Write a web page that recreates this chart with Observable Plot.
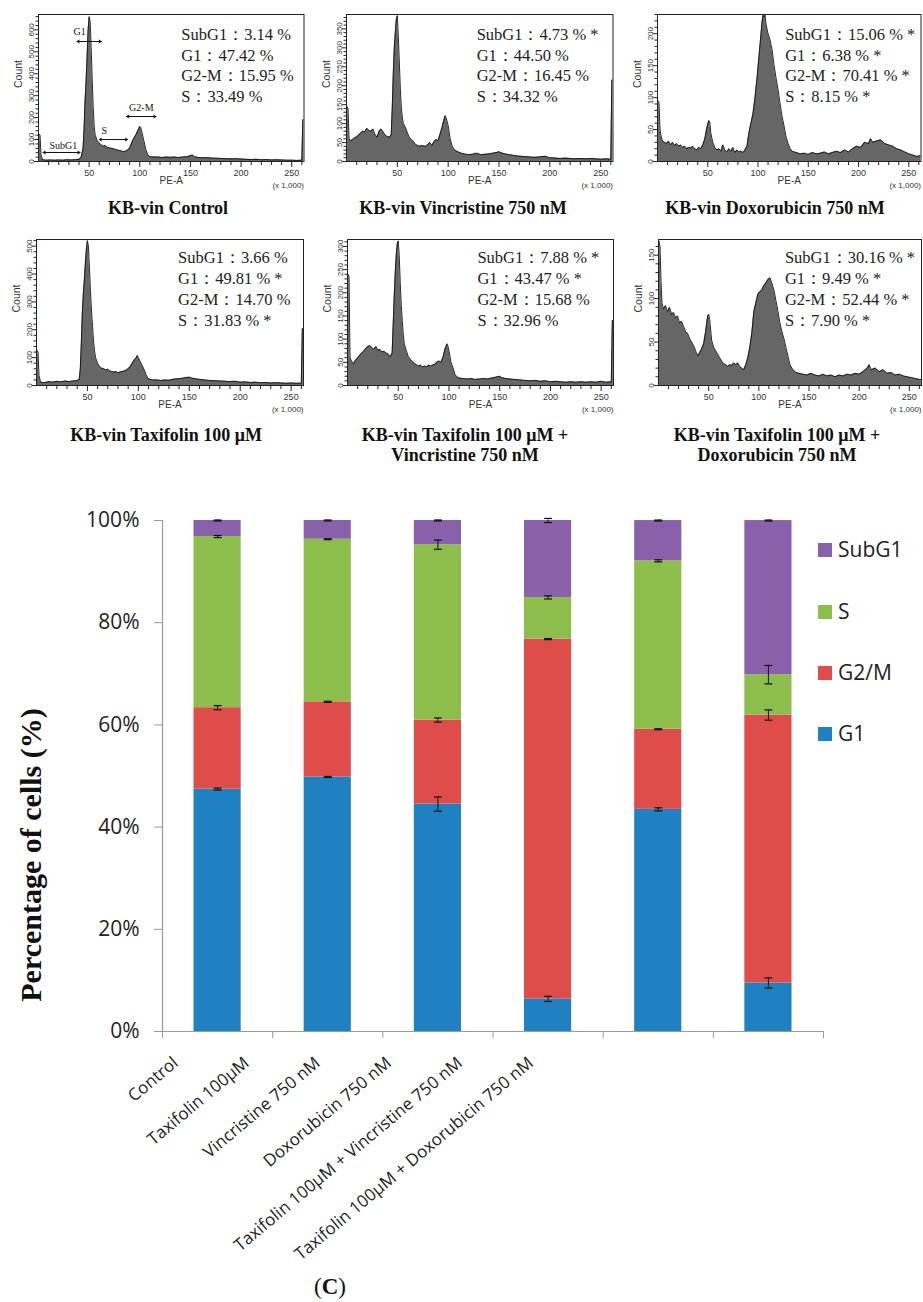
<!DOCTYPE html>
<html><head><meta charset="utf-8">
<script src="https://cdn.jsdelivr.net/npm/d3@7"></script>
<script src="https://cdn.jsdelivr.net/npm/@observablehq/plot@0.6"></script>
<style>
html,body{margin:0;padding:0;background:#fff;overflow:hidden}
#root{position:relative;width:923px;height:1302px;background:#fff;overflow:hidden}
#root svg{position:absolute;overflow:visible}
.ptitle{position:absolute;font-family:"Liberation Serif","Times New Roman",serif;font-weight:bold;font-size:18px;line-height:21px;text-align:center;color:#111;white-space:nowrap;transform:translateX(-50%)}
.leg{position:absolute;font-family:"Open Sans",sans-serif;font-size:21px;line-height:28px;color:#222}
.sw{position:absolute;width:14px;height:14px}
</style></head><body><div id="root"></div><script>
// ---------- bar chart data ----------
const categories = ["Control","Taxifolin 100µM","Vincristine 750 nM","Doxorubicin 750 nM","Taxifolin 100µM + Vincristine 750 nM","Taxifolin 100µM + Doxorubicin 750 nM"];
const phases = ["G1","G2/M","S","SubG1"];
const g1Values    = [47.42, 49.81, 44.50, 6.38, 43.47, 9.49];
const g2mValues   = [15.95, 14.70, 16.45, 70.41, 15.68, 52.44];
const sValues     = [33.49, 31.83, 34.32, 8.15, 32.96, 7.90];
const subG1Values = [3.14, 3.66, 4.73, 15.06, 7.88, 30.16];
const g1Err    = [0.2, 0.1, 1.4, 0.5, 0.3, 1.0];
const g2mErr   = [0.4, 0.1, 0.4, 0.1, 0.1, 1.0];
const sErr     = [0.2, 0.1, 0.9, 0.3, 0.2, 1.8];
const subG1Err = [0.1, 0.1, 0.1, 0.4, 0.1, 0.1];
const sigSubG1 = [0,0,1,1,1,1];
const sigG1    = [0,1,0,1,1,1];
const sigG2M   = [0,0,0,1,0,1];
const sigS     = [0,1,0,1,0,1];
const yTicks = [0,20,40,60,80,100];
const phaseColors = ["#1F80C2","#DE4D4A","#8DBE4B","#8961AB"];

// ---------- histogram data [PE-A (x1000), count] ----------
const histControl = [[0.5,125],[1.5,120],[2.5,30],[4,8],[8,6],[12,7],[16,6],[20,7],[24,6],[28,8],[32,7],[36,8],[40,10],[42,18],[44,60],[45,150],[46,280],[47,370],[48,480],[49,600],[50,660],[51,640],[52,520],[53,380],[54,250],[55,160],[56,120],[58,95],[60,85],[62,75],[64,70],[66,72],[68,65],[70,62],[72,60],[74,58],[76,55],[78,52],[80,50],[82,48],[84,45],[86,47],[88,52],[90,62],[92,85],[94,105],[96,120],[98,140],[100,160],[101,155],[102,135],[104,95],[106,55],[108,30],[110,22],[114,20],[118,21],[122,18],[126,20],[130,19],[134,20],[138,18],[142,20],[146,22],[150,26],[152,30],[154,22],[158,18],[162,17],[166,18],[170,16],[175,15],[180,14],[185,13],[190,12],[195,13],[200,11],[205,10],[210,9],[215,10],[220,8],[225,9],[230,7],[235,8],[240,7],[245,6],[250,6],[255,5],[260,6],[261,190],[262,190]];
const histVincristine = [[0.5,145],[1.5,140],[2.5,60],[4,55],[6,58],[8,62],[10,65],[12,70],[14,75],[16,80],[18,78],[20,88],[22,82],[24,80],[26,86],[28,72],[30,64],[32,80],[34,86],[36,78],[38,70],[40,66],[42,64],[44,70],[45,140],[46,230],[47,300],[48,340],[49,375],[50,385],[51,330],[52,260],[53,190],[54,140],[55,115],[56,100],[58,90],[60,75],[62,63],[64,58],[66,52],[68,45],[70,42],[72,40],[74,42],[76,41],[78,40],[80,45],[82,50],[84,42],[86,52],[88,58],[90,55],[92,72],[94,90],[96,112],[97,121],[98,115],[100,95],[102,60],[104,40],[106,32],[108,28],[110,25],[113,22],[116,20],[120,18],[124,19],[128,22],[132,18],[136,19],[140,20],[144,22],[148,24],[150,26],[152,23],[156,20],[160,18],[165,16],[170,14],[175,13],[180,12],[185,11],[190,12],[195,14],[200,10],[205,9],[210,8],[215,9],[220,8],[225,7],[230,8],[235,7],[240,8],[245,7],[250,6],[255,7],[260,6],[261,215],[262,215]];
const histDoxorubicin = [[0.5,95],[1.5,92],[2.5,50],[3.5,40],[5,32],[7,30],[9,28],[11,32],[13,26],[15,30],[17,25],[19,28],[21,24],[23,26],[25,22],[27,24],[29,20],[31,22],[33,21],[35,24],[37,20],[39,18],[41,22],[43,20],[45,26],[47,35],[49,52],[51,64],[52,62],[53,45],[55,30],[57,22],[59,18],[61,20],[63,16],[65,26],[67,18],[69,15],[71,20],[73,16],[75,22],[77,14],[79,18],[81,15],[83,16],[85,14],[87,18],[89,24],[91,45],[93,60],[95,75],[97,100],[99,130],[101,165],[103,200],[104,218],[105,229],[106,226],[107,229],[108,215],[110,200],[112,190],[114,175],[116,150],[118,130],[120,112],[122,90],[124,70],[126,55],[128,38],[130,28],[132,20],[134,16],[138,14],[142,12],[146,13],[150,11],[154,14],[158,12],[162,13],[166,15],[170,12],[174,14],[178,16],[182,14],[186,18],[190,15],[194,20],[198,24],[202,22],[206,30],[210,28],[212,36],[214,30],[218,32],[222,34],[226,28],[230,26],[234,24],[238,20],[242,18],[246,15],[250,12],[254,10],[258,8],[262,9]];
const histTaxifolin = [[0.5,126],[1.5,120],[2.5,35],[4,12],[8,10],[12,14],[16,12],[20,15],[24,13],[28,16],[32,14],[36,16],[40,18],[42,22],[43,60],[44,150],[45,260],[46,330],[47,380],[48,440],[49,490],[50,520],[51,500],[52,420],[53,340],[54,270],[55,215],[56,160],[57,125],[58,100],[60,80],[62,68],[64,62],[66,60],[68,56],[70,58],[72,52],[74,50],[76,48],[78,50],[80,46],[82,48],[84,50],[86,52],[88,55],[90,60],[92,68],[94,80],[96,92],[98,100],[99,108],[100,100],[102,85],[104,70],[106,55],[108,35],[110,24],[114,20],[118,20],[122,18],[126,20],[130,19],[134,22],[138,24],[142,25],[146,28],[150,30],[152,27],[156,24],[160,22],[165,20],[170,18],[175,17],[180,16],[185,15],[190,14],[195,15],[200,12],[205,13],[210,11],[215,12],[220,10],[225,11],[230,9],[235,10],[240,9],[245,8],[250,9],[255,8],[260,8],[261,204],[262,204]];
const histTaxVin = [[0.5,240],[1.5,235],[2.5,60],[4,52],[6,48],[8,55],[10,60],[12,65],[14,70],[16,74],[18,80],[20,84],[22,86],[24,82],[26,78],[28,84],[30,76],[32,78],[34,72],[36,74],[38,70],[40,68],[42,62],[44,70],[45,130],[46,190],[47,240],[48,280],[49,305],[50,312],[51,280],[52,220],[53,175],[54,140],[55,110],[56,90],[58,75],[60,62],[62,56],[64,52],[66,48],[68,45],[70,42],[72,44],[74,40],[76,42],[78,40],[80,44],[82,42],[84,44],[86,46],[88,50],[90,53],[92,50],[94,60],[96,78],[98,90],[99,85],[100,75],[102,50],[104,38],[106,24],[108,18],[110,16],[114,15],[118,14],[122,15],[126,13],[130,14],[134,15],[138,14],[142,16],[146,18],[150,20],[152,17],[156,15],[160,14],[165,13],[170,12],[175,11],[180,10],[185,11],[190,9],[195,10],[200,8],[205,9],[210,8],[215,7],[220,8],[225,7],[230,8],[235,7],[240,8],[245,7],[250,9],[255,7],[260,8],[261,140],[262,140]];
const histTaxDox = [[0.5,166],[1.5,160],[2.5,120],[3.5,95],[5,88],[7,92],[9,85],[11,90],[13,82],[15,84],[17,78],[19,80],[21,72],[23,74],[25,68],[27,62],[29,60],[31,54],[33,50],[35,46],[37,40],[39,34],[41,38],[43,42],[45,48],[47,62],[49,80],[50,82],[51,76],[53,52],[55,44],[57,40],[59,36],[61,32],[63,28],[65,25],[67,24],[69,22],[71,24],[73,23],[75,26],[77,24],[79,26],[81,22],[83,20],[85,18],[87,24],[89,32],[91,44],[93,60],[95,85],[97,95],[99,105],[101,108],[103,110],[105,115],[107,118],[109,122],[111,124],[113,118],[115,110],[117,98],[119,86],[121,72],[123,62],[125,54],[127,44],[129,34],[131,24],[134,18],[137,15],[140,14],[144,13],[148,12],[152,14],[156,12],[160,11],[164,13],[168,11],[172,12],[176,10],[180,12],[184,11],[188,13],[192,12],[196,14],[200,13],[204,16],[208,20],[210,24],[212,18],[216,20],[220,16],[224,18],[228,14],[232,15],[236,12],[240,13],[244,11],[248,10],[252,9],[256,8],[260,7],[262,7]];
const xMajorTicks = [50,100,150,200,250];
// gate annotations of the control histogram: label, x1, x2 (x1000), arrow count, label x, label count
const gateLabels = ["G1","S","G2-M","SubG1"];
const gateX1 = [38, 60, 87, 4.5];
const gateX2 = [62, 88, 116, 41];
const gateY  = [547, 100, 205, 41];
const gateLabelX = [40.5, 65, 101.5, 24.5];
const gateLabelY = [590, 141, 246, 73];

const root = document.getElementById("root");
const serif = '"Liberation Serif","Times New Roman",serif';
const sans = '"Liberation Sans",Arial,sans-serif';

const panels = [
  {data: histControl, cat:0, frameL:37.5, frameR:303, frameT:14, frameB:161, ymax:670, step:100, minorStep:20, statsX:141, row:1, gates:true},
  {data: histVincristine, cat:2, frameL:345.5, frameR:612, frameT:14, frameB:161, ymax:388, step:50, minorStep:10, statsX:128, row:1},
  {data: histDoxorubicin, cat:3, frameL:656.5, frameR:920, frameT:14, frameB:161, ymax:230, step:50, minorStep:10, statsX:127, row:1},
  {data: histTaxifolin, cat:1, frameL:36, frameR:303, frameT:239, frameB:385, ymax:524, step:100, minorStep:20, statsX:139, row:2},
  {data: histTaxVin, cat:4, frameL:347, frameR:613, frameT:239, frameB:385, ymax:315, step:50, minorStep:10, statsX:128, row:2},
  {data: histTaxDox, cat:5, frameL:658, frameR:921, frameT:239, frameB:385, ymax:168, step:50, minorStep:10, statsX:126, row:2}
];
const panelTitles = [["KB-vin Control"],["KB-vin Vincristine 750 nM"],["KB-vin Doxorubicin 750 nM"],["KB-vin Taxifolin 100 μM"],["KB-vin Taxifolin 100 μM +","Vincristine 750 nM"],["KB-vin Taxifolin 100 μM +","Doxorubicin 750 nM"]];
const titleCenters = [168,463,775,166,465,777];

function statLines(c){
  const f = (v,s)=> v.toFixed(2)+" %"+(s?" *":"");
  return ["SubG1：" + f(subG1Values[c], sigSubG1[c]),
          "G1：" + f(g1Values[c], sigG1[c]),
          "G2-M：" + f(g2mValues[c], sigG2M[c]),
          "S：" + f(sValues[c], sigS[c])].join("\n");
}

panels.forEach((p, k) => {
  const mL=40, mR=8, mT=14, mB=40;
  const w = p.frameR - p.frameL + mL + mR;
  const h = p.frameB - p.frameT + mT + mB;
  const pts = p.data.map(([x,y]) => ({x,y}));
  const major = d3.range(0, p.ymax + 1, p.step);
  const minor = d3.range(0, p.ymax + 1, p.minorStep).filter(v => v % p.step !== 0);
  const xMinor = d3.range(10, 261, 10).filter(v => v % 50 !== 0);
  const marks = [
    Plot.areaY(pts, {x:"x", y:"y", fill:"#666666", curve:"linear", clip:true}),
    Plot.lineY(pts, {x:"x", y:"y", stroke:"#111", strokeWidth:0.9, clip:true}),
    Plot.frame({stroke:"#222", strokeWidth:1}),
    Plot.axisX(xMajorTicks, {anchor:"bottom", tickSize:6, tickPadding:2, fontSize:9, fontFamily:sans, stroke:"#222", fill:"#333", label:null}),
    Plot.axisX(xMinor, {anchor:"bottom", tickSize:4, tickFormat:()=>"", stroke:"#222", label:null}),
    Plot.axisY(major, {anchor:"left", tickSize:4, tickPadding:1, tickRotate:-90, fontSize:8, fontFamily:sans, stroke:"#222", fill:"#333", label:null}),
    Plot.axisY(minor, {anchor:"left", tickSize:2.5, tickFormat:()=>"", stroke:"#222", label:null}),
    Plot.text(["Count"], {text:d=>d, frameAnchor:"left", dx:-20, rotate:-90, fontSize:10.5, fontFamily:sans, fill:"#333"}),
    Plot.text(["PE-A"], {text:d=>d, frameAnchor:"bottom", dy:22, fontSize:10, fontFamily:sans, fill:"#333"}),
    Plot.text(["(x 1,000)"], {text:d=>d, frameAnchor:"bottom-right", dy:26, textAnchor:"end", fontSize:8, fontFamily:sans, fill:"#333"}),
    Plot.text([statLines(p.cat)], {text:d=>d, x:()=>p.statsX, frameAnchor:"top", dy: p.row === 1 ? 11 : 8.5, lineAnchor:"top", textAnchor:"start", lineHeight: p.row === 1 ? 1.25 : 1.28, fontSize:16.5, fontFamily:serif, fill:"#222"})
  ];
  if (p.gates) {
    const g = gateLabels.map((label,i)=>({label, x1:gateX1[i], x2:gateX2[i], y:gateY[i], lx:gateLabelX[i], ly:gateLabelY[i]}));
    marks.push(
      Plot.arrow(g, {x1:d=>(d.x1+d.x2)/2, x2:"x1", y1:"y", y2:"y", headLength:4, stroke:"#111", strokeWidth:1}),
      Plot.arrow(g, {x1:d=>(d.x1+d.x2)/2, x2:"x2", y1:"y", y2:"y", headLength:4, stroke:"#111", strokeWidth:1}),
      Plot.text(g, {x:"lx", y:"ly", text:"label", fontSize:10, fontFamily:serif, fill:"#111"})
    );
  }
  const svg = Plot.plot({
    width:w, height:h, marginLeft:mL, marginRight:mR, marginTop:mT, marginBottom:mB,
    x:{domain:[0,262.144]}, y:{domain:[0,p.ymax]},
    style:{background:"transparent", overflow:"visible"},
    marks
  });
  svg.style.left = (p.frameL - mL) + "px";
  svg.style.top = (p.frameT - mT) + "px";
  root.appendChild(svg);
  // titles
  const lines = panelTitles[k];
  lines.forEach((t, j) => {
    const d = document.createElement("div");
    d.className = "ptitle";
    d.textContent = t;
    const cy = (p.row === 1 ? 208 : 435) + j*20.5;
    d.style.left = titleCenters[k] + "px";
    d.style.top = (cy - 10.5) + "px";
    root.appendChild(d);
  });
});

// ---------- stacked bar chart ----------
const seriesVals = [g1Values, g2mValues, sValues, subG1Values];
const seriesErr = [g1Err, g2mErr, sErr, subG1Err];
const rows = [];
categories.forEach((c, i) => {
  let cum = 0;
  phases.forEach((ph, k) => {
    const v = seriesVals[k][i];
    rows.push({i, phase:ph, y1:cum, y2:cum+v, err:seriesErr[k][i]});
    cum += v;
  });
});
const capHalf = 0.036;
const bar = Plot.plot({
  width:923, height:812, marginLeft:162, marginRight:100, marginTop:30, marginBottom:271,
  x:{type:"linear", domain:[0,6]},
  y:{domain:[0,100]},
  color:{domain:phases, range:phaseColors},
  style:{background:"transparent", overflow:"visible"},
  marks:[
    Plot.rect(rows, {x1:d=>d.i, x2:d=>d.i+1, y1:"y1", y2:"y2", fill:"phase", insetLeft:31.5, insetRight:31.5}),
    Plot.ruleX(rows, {x:d=>d.i+0.5, y1:d=>d.y2-d.err, y2:d=>Math.min(100.1, d.y2+d.err), stroke:"#111", strokeWidth:1}),
    Plot.link(rows, {x1:d=>d.i+0.5-capHalf, x2:d=>d.i+0.5+capHalf, y1:d=>d.y2-d.err, y2:d=>d.y2-d.err, stroke:"#111", strokeWidth:1.2}),
    Plot.link(rows, {x1:d=>d.i+0.5-capHalf, x2:d=>d.i+0.5+capHalf, y1:d=>d.y2+d.err, y2:d=>d.y2+d.err, stroke:"#111", strokeWidth:1.2}),
    Plot.ruleX([0], {stroke:"#9a9a9a", strokeWidth:1.2}),
    Plot.ruleY([0], {stroke:"#9a9a9a", strokeWidth:1.2}),
    Plot.axisY(yTicks, {anchor:"left", tickSize:8, tickPadding:15, tickFormat:d=>d+"%", fontSize:21, fontFamily:'"Open Sans",sans-serif', stroke:"#9a9a9a", fill:"#222", label:null}),
    Plot.axisX(d3.range(0,7), {anchor:"bottom", tickSize:7, tickFormat:()=>"", stroke:"#9a9a9a", label:null}),
    Plot.text(categories, {text:d=>d, x:(d,i)=>0.12 + 0.645*i, frameAnchor:"bottom", dy:29, rotate:-40, textAnchor:"end", lineAnchor:"middle", fontSize:17, fontFamily:'"Open Sans",sans-serif', fill:"#222"})
  ]
});
bar.style.left = "0px";
bar.style.top = "490px";
root.appendChild(bar);

// y-axis title
const yt = document.createElement("div");
yt.textContent = "Percentage of cells (%)";
Object.assign(yt.style, {position:"absolute", left:(31-250)+"px", top:(855-18)+"px", width:"500px", height:"36px", lineHeight:"36px", textAlign:"center", fontFamily:serif, fontWeight:"bold", fontSize:"30px", color:"#111", transform:"rotate(-90deg)", whiteSpace:"nowrap"});
root.appendChild(yt);

// legend
const legOrder = ["SubG1","S","G2/M","G1"];
const legCenters = [550, 612, 673, 734];
legOrder.forEach((ph, j) => {
  const sw = document.createElement("div");
  sw.className = "sw";
  sw.style.background = phaseColors[phases.indexOf(ph)];
  sw.style.left = "818px";
  sw.style.top = (legCenters[j] - 7) + "px";
  root.appendChild(sw);
  const t = document.createElement("div");
  t.className = "leg";
  t.textContent = ph;
  t.style.left = "838px";
  t.style.top = (legCenters[j] - 15) + "px";
  root.appendChild(t);
});

// caption
const cap = document.createElement("div");
cap.innerHTML = '(<b>C</b>)';
Object.assign(cap.style, {position:"absolute", left:"280px", width:"100px", top:(1287-14)+"px", lineHeight:"28px", textAlign:"center", fontFamily:serif, fontSize:"23px", color:"#111"});
root.appendChild(cap);
</script></body></html>
